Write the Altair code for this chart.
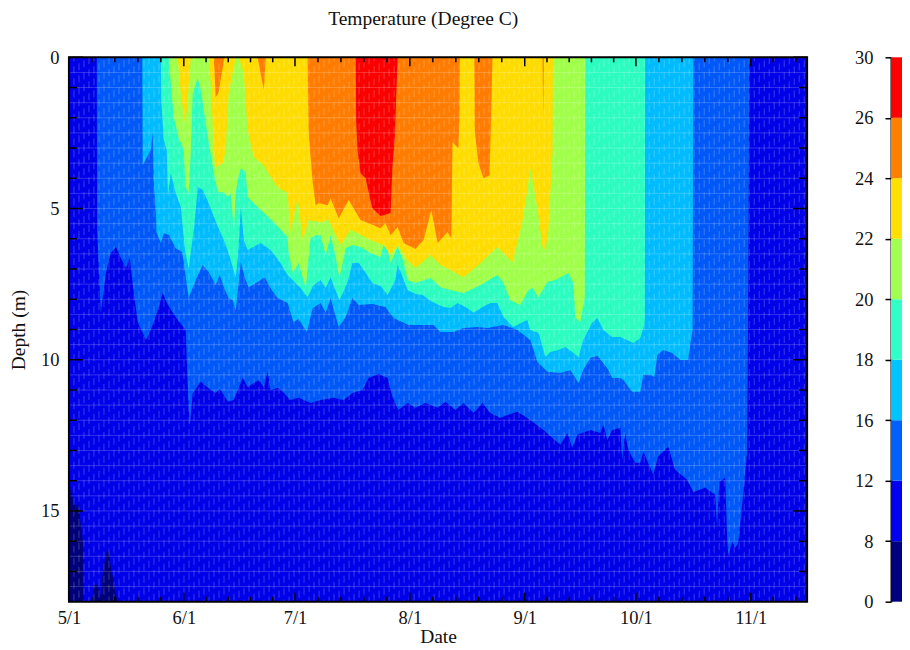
import altair as alt
import pandas as pd

FONT = "Liberation Serif"
W, H = 739, 545
X_MAX, Y_MAX = 199.2, 18

MONTH_DAYS = [0, 31, 61, 92, 123, 153, 184]
MONTH_LABELS = ["5/1", "6/1", "7/1", "8/1", "9/1", "10/1", "11/1"]
MINOR_DAYS = [6.2, 12.4, 18.6, 24.8, 37, 43, 49, 55, 67.2, 73.4, 79.6, 85.8, 98.2, 104.4, 110.6, 116.8,
              129, 135, 141, 147, 159.2, 165.4, 171.6, 177.8, 190, 196.2]
DEPTH_MAJOR = [0, 5, 10, 15]
DEPTH_MINOR = [1, 2, 3, 4, 6, 7, 8, 9, 11, 12, 13, 14, 16, 17]

BAR_LABELS = ["0", "8", "12", "16", "18", "20", "22", "24", "26", "30"]
BAR_COLORS = ["#00007f", "#0000f0", "#0060ff", "#00c4ff", "#30ffc8", "#a0ff50", "#ffe000", "#ff8000", "#ff0000"]
PLOT_COLORS = ["#00007a", "#0000e8", "#0058f8", "#00bcff", "#2cfcc0", "#a0ff48", "#ffdc00", "#ff7c00", "#fa0000"]

ISO_8 = [(0, 14.07), (1.9, 14.96), (2.4, 14.63), (3.8, 16.05), (4.0, 18), (6.4, 18), (6.7, 17.44), (7.7, 17.44),
         (8.6, 17.83), (9.1, 17.04), (10.4, 16.18), (11.8, 17.17), (13.1, 18)]

ISO_12 = [(7.5, 0), (7.6, 5.71), (8.6, 8.45), (9.97, 7.13), (11.3, 6.47), (12.7, 6.27), (14.0, 6.64), (15.4, 6.97),
          (16.4, 6.64), (17.3, 7.6), (18.6, 8.78), (20.8, 9.35), (22.1, 9.02), (24.0, 8.36), (25.3, 7.79), (26.7, 8.19),
          (28.8, 8.59), (31.5, 9.02), (32.1, 11.0), (32.6, 12.22), (33.4, 11.1), (35.6, 10.73), (37.5, 10.93),
          (39.6, 11.1), (40.7, 10.96), (42.9, 11.39), (44.5, 11.33), (46.9, 10.6), (48.2, 10.9), (51.2, 10.67),
          (52.6, 10.9), (53.6, 10.4), (54.4, 11.0), (56.6, 10.93), (59.8, 11.33), (62.0, 11.26), (65.2, 11.43),
          (67.9, 11.33), (71.4, 11.26), (74.1, 11.33), (76.5, 11.1), (79.2, 11.0), (80.9, 10.6), (83.6, 10.47),
          (86.0, 10.6), (87.3, 11.23), (88.9, 11.66), (91.4, 11.43), (93.5, 11.59), (96.2, 11.43), (99.5, 11.59),
          (101.6, 11.39), (104.3, 11.66), (106.5, 11.43), (109.2, 11.76), (111.6, 11.43), (113.7, 11.76), (116.4, 11.92),
          (121.0, 11.72), (124.5, 11.99), (128.6, 12.38), (132.6, 12.81), (134.5, 12.42), (135.8, 12.91), (137.2, 12.48),
          (140.7, 12.32), (143.4, 12.42), (144.2, 12.15), (145.3, 12.65), (146.6, 12.32), (148.8, 12.25), (149.1, 12.91),
          (149.3, 13.31), (150.1, 12.42), (150.9, 12.98), (152.8, 13.41), (154.2, 13.41), (155.0, 13.04), (157.7, 13.8),
          (159.0, 13.21), (161.7, 12.88), (163.6, 13.64), (166.8, 13.97), (168.5, 14.37), (171.7, 14.23), (174.4, 14.46),
          (174.9, 15.52), (175.5, 14.04), (177.1, 13.9), (177.6, 15.85), (177.9, 16.45), (179.0, 16.02), (179.8, 16.22),
          (180.6, 16.05), (181.9, 14.53), (183.0, 13.08), (183.3, 8.02), (183.6, 0)]

ISO_16 = [(19.8, 0), (19.9, 3.57), (21.3, 3.24), (22.1, 3.07), (22.6, 2.48), (22.9, 4.16), (23.5, 5.28), (23.6, 5.78),
          (24.8, 6.14), (25.6, 5.81), (27.0, 5.88), (28.8, 6.31), (30.5, 6.44), (31.0, 6.8), (32.3, 7.96), (34.2, 7.36),
          (36.1, 6.87), (37.7, 7.1), (39.6, 7.53), (40.7, 7.2), (41.8, 7.6), (43.1, 7.96), (44.2, 8.03), (45.0, 8.36),
          (45.8, 7.46), (46.4, 6.77), (47.4, 7.27), (48.5, 7.6), (50.9, 7.43), (52.8, 7.27), (54.7, 7.69), (56.3, 7.96),
          (59.0, 8.12), (60.6, 8.75), (62.0, 8.65), (64.2, 9.08), (65.8, 8.29), (67.9, 8.12), (69.3, 8.45), (70.6, 7.96),
          (72.8, 8.92), (74.7, 8.59), (76.5, 7.96), (78.2, 8.19), (81.9, 8.16), (85.4, 8.26), (87.6, 8.62), (91.6, 8.85),
          (98.4, 8.85), (100.3, 9.08), (103.8, 9.08), (106.5, 8.95), (110.2, 8.92), (112.9, 8.95), (117.3, 8.85),
          (121.0, 9.02), (124.5, 9.35), (126.4, 10.07), (129.1, 10.4), (132.6, 10.44), (135.3, 10.34), (137.5, 10.77),
          (138.8, 10.34), (140.7, 9.94), (142.6, 9.87), (144.2, 10.11), (145.6, 10.34), (146.6, 10.6), (148.8, 10.6),
          (149.6, 10.67), (152.0, 11.06), (154.2, 11.06), (155.0, 10.5), (156.9, 10.5), (158.0, 10.57), (158.8, 9.84),
          (160.4, 9.68), (162.8, 9.78), (165.0, 10.01), (167.1, 10.01), (167.7, 9.45), (168.3, 9.02), (168.5, 0)]

ISO_18 = [(24.8, 0), (24.9, 1.42), (25.6, 2.74), (26.4, 3.07), (26.7, 4.56), (27.5, 3.83), (28.8, 4.49), (30.2, 4.95),
          (31.3, 6.37), (32.3, 6.97), (33.7, 5.71), (34.8, 4.29), (36.1, 4.39), (37.7, 4.82), (40.2, 5.61), (41.8, 6.04),
          (43.1, 6.47), (45.0, 7.27), (45.6, 6.6), (46.4, 4.95), (47.2, 6.04), (48.2, 6.37), (51.8, 6.14), (54.4, 6.37),
          (57.1, 6.8), (59.0, 7.2), (62.5, 7.63), (64.4, 7.93), (66.0, 7.53), (67.9, 7.36), (69.3, 7.63), (70.6, 7.27),
          (73.0, 8.03), (75.2, 7.43), (76.5, 6.8), (78.2, 6.8), (80.1, 7.13), (81.9, 7.46), (84.1, 7.56), (86.0, 7.86),
          (88.1, 7.36), (88.7, 6.87), (89.5, 7.1), (91.4, 7.69), (93.5, 7.83), (95.4, 7.86), (98.1, 8.09), (101.1, 8.26),
          (103.0, 8.29), (104.9, 8.12), (107.5, 8.29), (109.2, 8.45), (111.6, 8.26), (113.7, 8.12), (115.6, 8.12),
          (117.3, 8.59), (119.9, 8.92), (123.7, 8.69), (124.5, 9.02), (126.7, 9.11), (128.6, 9.91), (129.9, 9.74),
          (132.1, 9.68), (134.0, 9.58), (135.8, 9.74), (137.5, 9.91), (138.8, 9.35), (141.2, 8.78), (142.6, 8.62),
          (144.2, 9.02), (146.6, 9.25), (148.8, 9.25), (152.3, 9.45), (154.2, 9.28), (155.4, 8.78), (155.5, 0)]

ISO_20 = [(27.0, 0), (27.1, 0.33), (28.3, 1.98), (29.6, 2.64), (31.0, 3.07), (31.5, 4.29), (32.3, 4.49), (32.9, 3.07),
          (33.4, 1.19), (34.8, 0.69), (35.6, 1.09), (37.5, 2.64), (39.1, 3.83), (40.2, 4.46), (41.8, 4.46), (42.9, 4.62),
          (43.7, 4.49), (44.5, 5.71), (45.0, 4.49), (45.8, 3.9), (46.4, 3.67), (47.7, 3.8), (48.2, 4.62), (51.8, 5.05),
          (55.3, 5.45), (59.0, 5.94), (59.2, 6.37), (60.4, 7.13), (62.0, 6.8), (63.9, 7.63), (65.2, 5.98), (66.6, 5.88),
          (67.9, 5.88), (69.3, 6.54), (70.6, 5.88), (72.0, 6.6), (73.0, 7.3), (74.7, 6.31), (76.5, 6.21), (78.7, 6.27),
          (81.4, 6.47), (84.1, 6.6), (85.4, 5.98), (86.8, 6.8), (88.7, 6.27), (90.3, 6.77), (91.4, 7.36), (93.5, 7.46),
          (97.6, 7.3), (100.3, 7.6), (103.0, 7.69), (106.5, 7.79), (111.1, 7.53), (115.6, 7.2), (117.3, 7.46),
          (119.1, 8.03), (121.8, 8.19), (124.0, 7.69), (125.1, 7.63), (126.7, 7.93), (129.1, 7.43), (131.3, 7.36),
          (134.8, 7.13), (136.1, 7.46), (136.7, 8.62), (138.0, 8.75), (139.2, 7.93), (139.4, 0)]

ISO_22 = [(29.4, 0), (30.2, 1.19), (31.3, 2.18), (31.8, 1.75), (32.9, 0), (37.7, 0), (38.3, 0.86), (39.1, 3.07),
          (39.6, 3.63), (41.5, 3.5), (42.3, 3.07), (43.1, 1.19), (45.0, 0), (45.8, 0), (47.2, 0.5), (48.2, 2.41),
          (49.9, 3.3), (52.6, 3.57), (55.0, 4.06), (56.3, 4.29), (59.0, 4.49), (59.8, 5.78), (61.7, 4.66), (63.1, 6.04),
          (64.7, 5.38), (67.9, 5.45), (70.1, 5.38), (73.3, 6.21), (76.0, 5.71), (77.9, 5.81), (81.4, 6.04), (84.9, 6.21),
          (86.8, 6.54), (88.7, 6.21), (91.4, 6.7), (93.5, 6.97), (97.6, 6.54), (100.3, 6.87), (103.0, 7.03), (106.5, 7.27),
          (111.1, 6.8), (115.6, 6.27), (119.7, 6.77), (121.0, 6.14), (122.4, 5.38), (123.5, 4.56), (124.5, 3.67),
          (126.4, 4.95), (127.8, 6.27), (128.6, 6.37), (129.4, 5.71), (130.5, 3.07), (130.6, 0)]

ISO_24 = [(39.1, 0), (39.6, 1.32), (40.4, 1.16), (40.9, 0.76), (42.0, 0), (50.9, 0), (52.6, 1.09), (53.1, 0),
          (64.4, 0), (64.7, 2.51), (65.8, 4.16), (66.6, 4.89), (67.4, 4.82), (69.8, 4.89), (70.6, 4.66), (72.8, 5.32),
          (75.5, 4.72), (78.7, 5.38), (82.2, 5.55), (84.1, 5.65), (85.4, 5.48), (86.8, 5.88), (88.7, 5.61), (90.3, 6.14),
          (93.5, 6.34), (95.7, 6.04), (97.8, 5.05), (99.5, 6.14), (102.2, 5.78), (103.2, 5.98), (103.5, 2.81), (105.1, 3.01),
          (105.4, 1.98), (105.5, 0), (109.4, 0), (109.5, 2.41), (110.5, 3.5), (111.9, 4.0), (113.5, 3.9), (113.7, 2.97),
          (114.3, 0), (127.8, 0), (128.0, 1.98), (128.2, 0)]

ISO_26 = [(77.4, 0), (77.5, 2.08), (77.9, 3.07), (78.7, 3.83), (80.1, 4.0), (80.9, 4.49), (81.9, 4.99), (84.1, 5.25),
          (86.8, 5.15), (87.3, 3.63), (87.9, 2.74), (88.7, 0)]

ISOTHERMS = [ISO_12, ISO_16, ISO_18, ISO_20, ISO_22, ISO_24, ISO_26]

x_scale = alt.Scale(domain=[0, X_MAX], nice=False, zero=False)
y_scale = alt.Scale(domain=[0, Y_MAX], reverse=True, nice=False, zero=False)
label_expr = "{" + ",".join(f"'{d}':'{t}'" for d, t in zip(MONTH_DAYS, MONTH_LABELS)) + "}[datum.value]"
x_axis = alt.Axis(values=MONTH_DAYS, labelExpr=label_expr, grid=False, domain=False, ticks=False,
                  labelFlush=False, labelOverlap=False, labelPadding=7, titlePadding=0)
y_axis = alt.Axis(values=DEPTH_MAJOR, grid=False, domain=False, ticks=False, labelFlush=False,
                  labelPadding=10, titlePadding=12, format="d")


def frame(rows):
    return pd.DataFrame(rows, columns=["day", "depth"])


def x_enc():
    return alt.X("day:Q", scale=x_scale, title="Date", axis=x_axis)


def y_enc():
    return alt.Y("depth:Q", scale=y_scale, title="Depth (m)", axis=y_axis)


layers = [
    alt.Chart(frame([(0, Y_MAX), (X_MAX, Y_MAX)]))
    .mark_area(orient="vertical", color=PLOT_COLORS[1])
    .encode(x=x_enc(), y=y_enc(), y2=alt.Y2(datum=0))
]
for rows, color in zip(ISOTHERMS, PLOT_COLORS[2:]):
    layers.append(
        alt.Chart(frame(rows)).mark_area(orient="vertical", color=color, interpolate="linear")
        .encode(x=x_enc(), y=y_enc(), y2=alt.Y2(datum=0))
    )
layers.append(
    alt.Chart(frame(ISO_8)).mark_area(orient="vertical", color=PLOT_COLORS[0], interpolate="linear")
    .encode(x=x_enc(), y=y_enc(), y2=alt.Y2(datum=Y_MAX))
)

# the pale mesh of the surface plot
mesh_h = pd.DataFrame({"depth": [0.5 * i for i in range(1, 36)]})
layers.append(alt.Chart(mesh_h).mark_rule(color="white", opacity=0.2, strokeWidth=1).encode(y=y_enc()))
for k in range(4):
    mesh_v = pd.DataFrame({"day": [1.35 * i for i in range(1, 148) if i % 4 == k]})
    layers.append(
        alt.Chart(mesh_v)
        .mark_rule(color="white", opacity=0.16, strokeWidth=1.4, strokeDash=[7, 5], strokeDashOffset=3 * k)
        .encode(x=x_enc())
    )

# inward ticks on all four sides
for values, length in ((MONTH_DAYS, 9), (MINOR_DAYS, 5)):
    d = pd.DataFrame({"day": values})
    layers.append(alt.Chart(d).mark_rule(color="black", strokeWidth=1.5).encode(x=x_enc(), y=alt.value(H), y2=alt.value(H - length)))
    layers.append(alt.Chart(d).mark_rule(color="black", strokeWidth=1.5).encode(x=x_enc(), y=alt.value(0), y2=alt.value(length)))
for values, length in ((DEPTH_MAJOR, 14), (DEPTH_MINOR, 8)):
    d = pd.DataFrame({"depth": values})
    layers.append(alt.Chart(d).mark_rule(color="black", strokeWidth=1.5).encode(y=y_enc(), x=alt.value(0), x2=alt.value(length)))
    layers.append(alt.Chart(d).mark_rule(color="black", strokeWidth=1.5).encode(y=y_enc(), x=alt.value(W), x2=alt.value(W - length)))

layers.append(
    alt.Chart(pd.DataFrame({"a": [0]})).mark_rect(filled=False, stroke="black", strokeWidth=2)
    .encode(x=alt.value(0), x2=alt.value(W), y=alt.value(0), y2=alt.value(H))
)

main = alt.layer(*layers).properties(width=W, height=H)

BAR_W = 11
bar_df = pd.DataFrame({"lo": list(range(9)), "hi": list(range(1, 10)), "color": BAR_COLORS})
bar_expr = "{" + ",".join(f"'{i}':'{t}'" for i, t in enumerate(BAR_LABELS)) + "}[datum.value]"
bar = (
    alt.Chart(bar_df)
    .mark_rect()
    .encode(
        x=alt.value(0), x2=alt.value(BAR_W),
        y=alt.Y("lo:Q", scale=alt.Scale(domain=[0, 9], nice=False, zero=False), title=None,
                axis=alt.Axis(values=list(range(10)), labelExpr=bar_expr, grid=False, domain=True, domainColor="black",
                              domainWidth=2, tickColor="black", tickWidth=1.5, tickSize=6, labelFlush=False,
                              labelPadding=12, labelOverlap=False)),
        y2="hi:Q",
        color=alt.Color("color:N", scale=None),
    )
    .properties(width=BAR_W, height=H)
)

chart = (
    alt.hconcat(main, bar, spacing=46)
    .properties(
        title=alt.TitleParams("Temperature (Degree C)", anchor="start", dx=320, dy=-5, offset=14, font=FONT, fontSize=19.5,
                              fontWeight="normal", color="#111111"),
        padding={"left": 0, "top": 0, "right": 0, "bottom": 0},
    )
    .configure_view(stroke=None)
    .configure_axis(labelFont=FONT, titleFont=FONT, labelFontSize=18.5, titleFontSize=19.5, labelColor="#111111",
                    titleColor="#111111", titleFontWeight="normal")
)

chart.save("out.html", embed_options={"renderer": "svg", "actions": False})
